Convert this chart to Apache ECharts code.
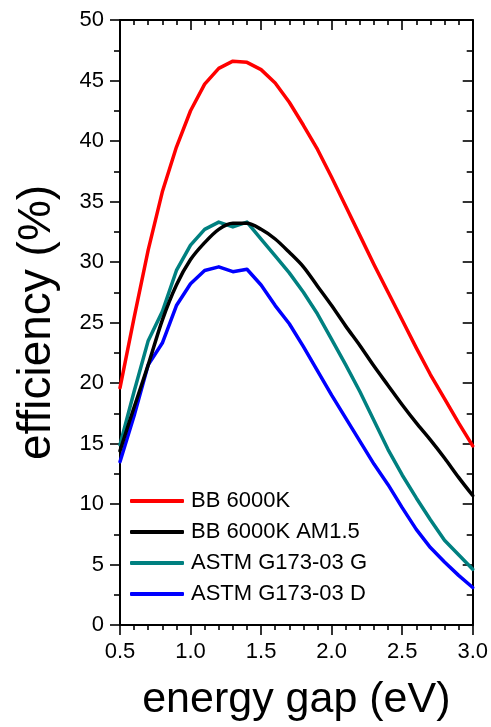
<!DOCTYPE html>
<html>
<head>
<meta charset="utf-8">
<script src="https://cdn.jsdelivr.net/npm/echarts@6/dist/echarts.min.js"></script>
<style>
  html, body { margin: 0; padding: 0; background: #fff; }
  #chart { width: 491px; height: 727px; }
</style>
</head>
<body>
<div id="chart"></div>
<script>
// Energy gap (eV), sampled every 0.1 eV
const energyGap = [0.5, 0.6, 0.7, 0.8, 0.9, 1.0, 1.1, 1.2, 1.3, 1.4, 1.5, 1.6, 1.7, 1.8, 1.9,
                   2.0, 2.1, 2.2, 2.3, 2.4, 2.5, 2.6, 2.7, 2.8, 2.9, 3.0];

// Efficiency (%) for each spectrum
const bb6000K = [19.6, 25.4, 31.0, 35.8, 39.5, 42.5, 44.7, 46.0, 46.6, 46.5, 45.9, 44.8, 43.2, 41.3, 39.3,
                 37.0, 34.6, 32.2, 29.8, 27.5, 25.2, 22.9, 20.7, 18.7, 16.7, 14.8];
const bb6000KAM15 = [14.4, 18.0, 21.5, 25.2, 28.1, 30.2, 31.6, 32.7, 33.2, 33.2, 32.7, 31.9, 30.8, 29.6, 28.0,
                     26.4, 24.7, 23.1, 21.4, 19.8, 18.2, 16.7, 15.3, 13.8, 12.2, 10.7];
const astmG = [14.9, 19.3, 23.5, 25.9, 29.3, 31.4, 32.7, 33.3, 32.9, 33.3, 31.9, 30.5, 29.1, 27.5, 25.7,
               23.6, 21.5, 19.3, 16.9, 14.5, 12.4, 10.5, 8.7, 7.0, 5.8, 4.6];
const astmD = [13.5, 17.3, 21.5, 23.3, 26.4, 28.2, 29.3, 29.6, 29.2, 29.4, 28.1, 26.4, 24.9, 23.0, 21.0,
               19.0, 17.1, 15.2, 13.3, 11.6, 9.7, 7.9, 6.4, 5.2, 4.1, 3.1];

const seriesNames = ['BB 6000K', 'BB 6000K AM1.5', 'ASTM G173-03 G', 'ASTM G173-03 D'];
const seriesColors = ['#ff0000', '#000000', '#008080', '#0000ff'];
const seriesValues = [bb6000K, bb6000KAM15, astmG, astmD];
const seriesSmooth = [false, 0.3, false, false];

const xTickLabels = ['0.5', '1.0', '1.5', '2.0', '2.5', '3.0'];

const FONT = 'Liberation Sans, Arial, sans-serif';
const axisLine = { show: true, onZero: false, lineStyle: { color: '#000', width: 2 } };
const tickStyle = { color: '#000', width: 1.6 };

const chart = echarts.init(document.getElementById('chart'), null, { renderer: 'canvas' });

function pairs(values) {
  return energyGap.map((x, i) => [x, values[i]]);
}

chart.setOption({
  animation: false,
  backgroundColor: '#fff',
  grid: { left: 120, right: 18, top: 20, bottom: 99, containLabel: false },
  legend: {
    orient: 'vertical',
    left: 130,
    top: 490,
    padding: 0,
    itemWidth: 54,
    itemHeight: 4,
    itemGap: 9,
    icon: 'roundRect',
    textStyle: { fontFamily: FONT, fontSize: 22, color: '#000', lineHeight: 22, padding: [0, 0, 0, 2] },
    data: seriesNames
  },
  xAxis: [
    {
      type: 'value', min: 0.5, max: 3.0, interval: 0.5, position: 'bottom',
      name: 'energy gap (eV)', nameLocation: 'middle', nameGap: 54,
      nameTextStyle: { fontFamily: FONT, fontSize: 43, color: '#000' },
      axisLine: axisLine,
      axisTick: { show: true, inside: false, length: 10, lineStyle: tickStyle },
      minorTick: { show: true, splitNumber: 5, length: 5, lineStyle: tickStyle },
      axisLabel: {
        margin: 16, fontFamily: FONT, fontSize: 22, color: '#000',
        formatter: v => xTickLabels.find(t => Math.abs(parseFloat(t) - v) < 1e-6) || ''
      },
      splitLine: { show: false }
    },
    {
      type: 'value', min: 0.5, max: 3.0, interval: 0.5, position: 'top',
      axisLine: axisLine,
      axisTick: { show: true, inside: true, length: 10, lineStyle: tickStyle },
      minorTick: { show: true, splitNumber: 5, length: 5, lineStyle: tickStyle },
      axisLabel: { show: false },
      splitLine: { show: false }
    }
  ],
  yAxis: [
    {
      type: 'value', min: 0, max: 50, interval: 5, position: 'left',
      name: 'efficiency (%)', nameLocation: 'middle', nameGap: 60,
      nameTextStyle: { fontFamily: FONT, fontSize: 46, color: '#000' },
      axisLine: axisLine,
      axisTick: { show: true, inside: false, length: 10, lineStyle: tickStyle },
      minorTick: { show: true, splitNumber: 2, length: 6, lineStyle: tickStyle },
      axisLabel: { margin: 16, fontFamily: FONT, fontSize: 22, color: '#000' },
      splitLine: { show: false }
    },
    {
      type: 'value', min: 0, max: 50, interval: 5, position: 'right',
      axisLine: axisLine,
      axisTick: { show: true, inside: true, length: 10, lineStyle: tickStyle },
      minorTick: { show: true, splitNumber: 2, length: 6, lineStyle: tickStyle },
      axisLabel: { show: false },
      splitLine: { show: false }
    }
  ],
  series: seriesNames.map((name, i) => ({
    name: name,
    type: 'line',
    xAxisIndex: 0,
    yAxisIndex: 0,
    data: pairs(seriesValues[i]),
    showSymbol: false,
    symbol: 'none',
    smooth: seriesSmooth[i],
    color: seriesColors[i],
    lineStyle: { color: seriesColors[i], width: 3.5, cap: 'round', join: 'round' },
    z: 10 - i
  }))
});
</script>
</body>
</html>
